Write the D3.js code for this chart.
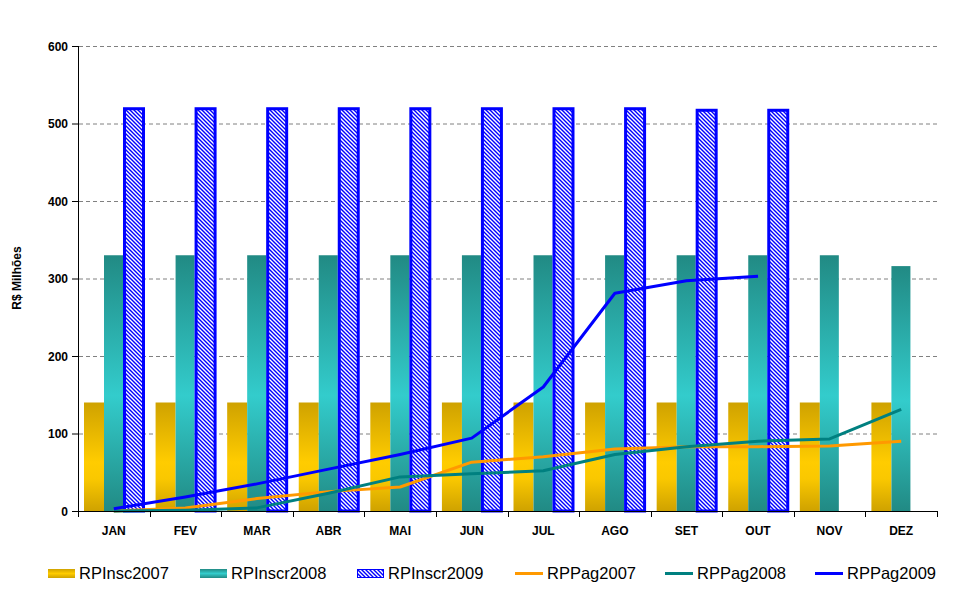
<!DOCTYPE html>
<html><head><meta charset="utf-8">
<script src="https://cdn.jsdelivr.net/npm/d3@7"></script>
<style>body{margin:0;background:#fff}svg{display:block}text{font-family:"Liberation Sans",Arial,sans-serif}</style>
</head><body><svg id="c" width="970" height="604"></svg>
<script>
const months = ["JAN","FEV","MAR","ABR","MAI","JUN","JUL","AGO","SET","OUT","NOV","DEZ"];
const yTicks = [0,100,200,300,400,500,600];
const RPInsc2007  = [140,140,140,140,140,140,140,140,140,140,140,140];
const RPInscr2008 = [330,330,330,330,330,330,330,330,330,330,330,316];
const RPInscr2009 = [521,521,521,521,521,521,521,521,519,519,null,null];
const RPPag2007 = [0,4,16,25,31,63,70,80,83,83,84,90];
const RPPag2008 = [0,1,4,23,44,48,52,73,83,90,93,131];
const RPPag2009 = [3,18,35,54,73,94,160,281,297,303,null,null];

const svg = d3.select("#c");
const L = 78, R = 937, T = 46, B = 511;
const x = d3.scaleBand().domain(months).range([L, R]).paddingInner(0).paddingOuter(0);
const y = d3.scaleLinear().domain([0, 600]).range([B, T]);

const defs = svg.append("defs");
const gy = defs.append("linearGradient").attr("id","gy").attr("x1",0).attr("y1",0).attr("x2",0).attr("y2",1);
[[0,"#CFA200"],[0.55,"#FFCC00"],[0.7,"#FAC800"],[1,"#CFA200"]].forEach(s=>gy.append("stop").attr("offset",s[0]).attr("stop-color",s[1]));
const gt = defs.append("linearGradient").attr("id","gt").attr("x1",0).attr("y1",0).attr("x2",0).attr("y2",1);
[[0,"#218A84"],[0.55,"#33CCCC"],[1,"#218A84"]].forEach(s=>gt.append("stop").attr("offset",s[0]).attr("stop-color",s[1]));
const ly = defs.append("linearGradient").attr("id","ly").attr("x1",0).attr("y1",0).attr("x2",0).attr("y2",1);
[[0,"#CFA200"],[0.5,"#FFCC00"],[1,"#CFA200"]].forEach(s=>ly.append("stop").attr("offset",s[0]).attr("stop-color",s[1]));
const lt = defs.append("linearGradient").attr("id","lt").attr("x1",0).attr("y1",0).attr("x2",0).attr("y2",1);
[[0,"#218A84"],[0.5,"#33CCCC"],[1,"#218A84"]].forEach(s=>lt.append("stop").attr("offset",s[0]).attr("stop-color",s[1]));
const pat = defs.append("pattern").attr("id","hatch").attr("patternUnits","userSpaceOnUse")
  .attr("width",4).attr("height",4);
pat.append("rect").attr("width",4).attr("height",4).attr("fill","#fff");
pat.append("path").attr("d","M0,0L4,4M-1,3L1,5M3,-1L5,1").attr("stroke","#0000FF").attr("stroke-width",1.4);

// gridlines
svg.append("g").selectAll("line").data(yTicks.filter(d=>d>0)).join("line")
  .attr("x1",L+1).attr("x2",R).attr("y1",d=>y(d)+0.5).attr("y2",d=>y(d)+0.5)
  .attr("stroke","#808080").attr("stroke-dasharray","4,3").attr("stroke-width",1);

// bars
const bw = 20, off = 6;
const bars = svg.append("g");
bars.selectAll(".b7").data(RPInsc2007).join("rect")
  .attr("x",(d,i)=>x(months[i])+off).attr("width",bw)
  .attr("y",d=>y(d)).attr("height",d=>B-y(d)).attr("fill","url(#gy)");
bars.selectAll(".b8").data(RPInscr2008).join("rect")
  .attr("x",(d,i)=>x(months[i])+off+bw).attr("width",19)
  .attr("y",d=>y(d)).attr("height",d=>B-y(d)).attr("fill","url(#gt)");
bars.selectAll(".b9").data(RPInscr2009.map((v,i)=>({v,i})).filter(d=>d.v!=null)).join("rect")
  .attr("x",d=>x(months[d.i])+off+bw+19+1.5).attr("width",19)
  .attr("y",d=>y(d.v)+1.5).attr("height",d=>B-y(d.v)-1.5)
  .attr("fill","url(#hatch)").attr("stroke","#0000FF").attr("stroke-width",3);

// lines
const line = d3.line().defined(d=>d.v!=null).x(d=>x(months[d.i])+x.bandwidth()/2).y(d=>y(d.v)).curve(d3.curveLinear);
const series = [[RPPag2007,"#FF9900"],[RPPag2008,"#008080"],[RPPag2009,"#0000FF"]];
series.forEach(([arr,col])=>{
  svg.append("path").datum(arr.map((v,i)=>({v,i}))).attr("d",line)
    .attr("fill","none").attr("stroke",col).attr("stroke-width",3).attr("stroke-linejoin","round");
});

// axes
svg.append("line").attr("x1",L+0.5).attr("x2",L+0.5).attr("y1",T).attr("y2",B+1).attr("stroke","#000");
svg.append("line").attr("x1",L).attr("x2",R+1).attr("y1",B+0.5).attr("y2",B+0.5).attr("stroke","#000");
svg.append("g").selectAll("line").data(yTicks).join("line")
  .attr("x1",L-6).attr("x2",L).attr("y1",d=>y(d)+0.5).attr("y2",d=>y(d)+0.5).attr("stroke","#000");
svg.append("g").selectAll("text").data(yTicks).join("text")
  .attr("x",L-10).attr("y",d=>y(d)+4.5).attr("text-anchor","end")
  .attr("font-size",12).attr("font-weight","bold").text(d=>d);
const xt = months.map(m=>x(m)).concat([R]);
svg.append("g").selectAll("line").data(xt).join("line")
  .attr("x1",d=>Math.round(d)+0.5).attr("x2",d=>Math.round(d)+0.5).attr("y1",B).attr("y2",B+6).attr("stroke","#000");
svg.append("g").selectAll("text").data(months).join("text")
  .attr("x",d=>x(d)+x.bandwidth()/2).attr("y",535).attr("text-anchor","middle")
  .attr("font-size",12).attr("font-weight","bold").text(d=>d);
svg.append("text").attr("transform","translate(21,278) rotate(-90)").attr("text-anchor","middle")
  .attr("font-size",12).attr("font-weight","bold").text("R$ Milhões");

// legend
const leg = [
  {name:"RPInsc2007",type:"bar",fill:"url(#ly)",x:48},
  {name:"RPInscr2008",type:"bar",fill:"url(#lt)",x:200},
  {name:"RPInscr2009",type:"hatch",x:357},
  {name:"RPPag2007",type:"line",col:"#FF9900",x:515},
  {name:"RPPag2008",type:"line",col:"#008080",x:665},
  {name:"RPPag2009",type:"line",col:"#0000FF",x:815}
];
const lg = svg.append("g");
leg.forEach(d=>{
  if(d.type==="bar") lg.append("rect").attr("x",d.x).attr("y",569).attr("width",27).attr("height",9).attr("fill",d.fill);
  else if(d.type==="hatch") lg.append("rect").attr("x",d.x+0.5).attr("y",569.5).attr("width",26).attr("height",8).attr("fill","url(#hatch)").attr("stroke","#0000FF").attr("stroke-width",1);
  else lg.append("line").attr("x1",d.x).attr("x2",d.x+28).attr("y1",573.5).attr("y2",573.5).attr("stroke",d.col).attr("stroke-width",3);
  lg.append("text").attr("x",d.type==="line"?d.x+32:d.x+31).attr("y",579).attr("font-size",16.5).text(d.name);
});
</script></body></html>
